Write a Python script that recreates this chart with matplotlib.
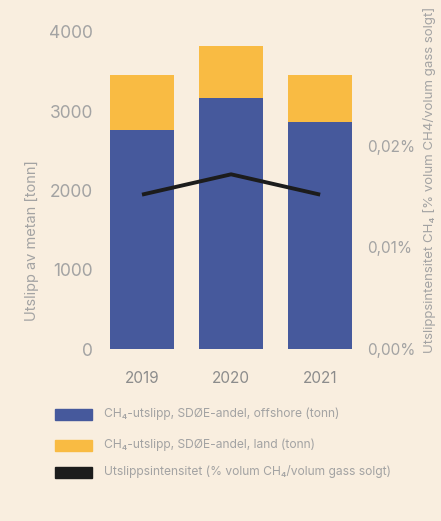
import numpy as np
import matplotlib
matplotlib.use("Agg")
import matplotlib.pyplot as plt
from matplotlib.patches import Rectangle

plt.rcParams['font.family'] = ['Inter', 'DejaVu Sans']

years = ['2019', '2020', '2021']
offshore = [2765, 3165, 2865]      # tonn
land = [690, 655, 590]             # tonn
intensitet = [0.0152, 0.0172, 0.0152]  # % volum

bg = '#F9EEDF'
blue = '#46599C'
orange = '#F9BB43'
black = '#1C1C1C'
grey = '#A3A3A3'
dark = '#8C8C8C'

fig = plt.figure(figsize=(4.41, 5.21), dpi=100, facecolor=bg)
ax = fig.add_axes([0.221, 0.330, 0.606, 0.609], facecolor=bg)

x = np.arange(len(years))
ax.bar(x, offshore, width=0.72, color=blue)
ax.bar(x, land, width=0.72, bottom=offshore, color=orange)
ax.set_xlim(-0.5, 2.5)
ax.set_ylim(0, 4000)
ax.set_yticks([0, 1000, 2000, 3000, 4000])
ax.set_xticks(x)
ax.set_xticklabels(years)
ax.tick_params(axis='y', length=0, labelsize=12.5, labelcolor=grey, pad=3)
ax.tick_params(axis='x', length=0, labelsize=11, labelcolor=dark, pad=16)
for s in ax.spines.values():
    s.set_visible(False)
fig.text(32 / 441, 1 - 241 / 521, 'Utslipp av metan [tonn]', rotation=90,
         ha='center', va='center', fontsize=10.5, color=grey)

ax2 = ax.twinx()
ax2.plot(x, intensitet, color=black, lw=2.8, solid_capstyle='butt')
ax2.set_ylim(0, 0.03123)
ax2.set_yticks([0, 0.01, 0.02])
ax2.set_yticklabels(['0,00%', '0,01%', '0,02%'])
ax2.tick_params(axis='y', length=0, labelsize=11, labelcolor=grey, pad=2)
for s in ax2.spines.values():
    s.set_visible(False)
fig.text(430 / 441, 1 - 180 / 521, 'Utslippsintensitet CH\u2084 [% volum CH4/volum gass solgt]',
         rotation=90, ha='center', va='center', fontsize=9.5, color=grey)

# legend
labels = ['CH\u2084-utslipp, SD\u00d8E-andel, offshore (tonn)',
          'CH\u2084-utslipp, SD\u00d8E-andel, land (tonn)',
          'Utslippsintensitet (% volum CH\u2084/volum gass solgt)']
colors = [blue, orange, black]
rows = [414, 445, 472]
for lab, c, yp in zip(labels, colors, rows):
    fig.patches.append(Rectangle((55 / 441, 1 - (yp + 5.5) / 521), 37 / 441, 11 / 521,
                                 transform=fig.transFigure, color=c))
    fig.text(104 / 441, 1 - yp / 521, lab, fontsize=8.7, color=grey, va='center', ha='left')

fig.savefig('out.png', dpi=100, facecolor=bg)
